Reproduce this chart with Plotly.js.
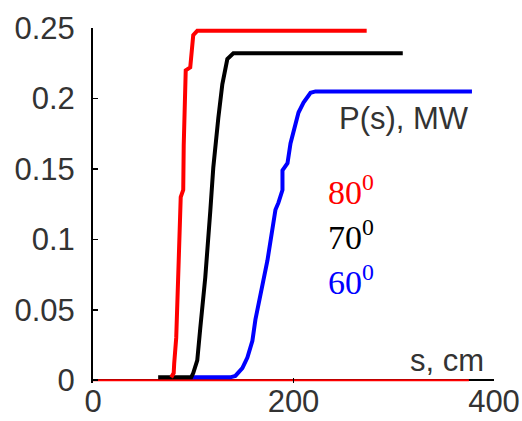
<!DOCTYPE html>
<html>
<head>
<meta charset="utf-8">
<script src="https://cdn.plot.ly/plotly-3.0.1.min.js"></script>
<style>html,body{margin:0;padding:0;background:#fff;}#chart{width:522px;height:421px;}</style>
</head>
<body>
<div id="chart"></div>
<script>
// Curve at 80 degrees (red)
const s80 = [78, 80.5, 81, 83, 85.5, 87.5, 90, 90.5, 92.5, 97, 100, 104, 273];
const p80 = [0.002, 0.005, 0.012, 0.03, 0.085, 0.13, 0.135, 0.167, 0.22, 0.222, 0.245, 0.248, 0.248];
// Curve at 70 degrees (black)
const s70 = [65, 98, 100, 104, 107, 112, 117, 120, 125, 129, 134, 140, 309];
const p70 = [0.002, 0.002, 0.005, 0.014, 0.037, 0.073, 0.12, 0.151, 0.186, 0.21, 0.228, 0.232, 0.232];
// Curve at 60 degrees (blue)
const s60 = [97, 137, 142, 149, 154, 159, 162, 166, 170, 174, 179, 182, 185, 189, 189, 194, 197, 202, 205, 210, 217, 222, 378];
const p60 = [0.002, 0.002, 0.003, 0.0085, 0.016, 0.028, 0.043, 0.059, 0.071, 0.085, 0.107, 0.121, 0.126, 0.135, 0.149, 0.154, 0.168, 0.183, 0.19, 0.197, 0.204, 0.205, 0.205];
// Thin baseline (red) along zero
const sBase = [0, 375];
const pBase = [0, 0];

const xTicks = [0, 200, 400];
const xTickText = ['0', '200', '400'];
const yTicks = [0, 0.05, 0.1, 0.15, 0.2, 0.25];
const yTickText = ['0', '0.05', '0.1', '0.15', '0.2', '0.25'];

const labels = ['80<sup>0</sup>', '70<sup>0</sup>', '60<sup>0</sup>'];
const labelColors = ['#ff0000', '#000000', '#0000ff'];

const traces = [
  {x: sBase, y: pBase, mode: 'lines', line: {color: '#ff0000', width: 2}, hoverinfo: 'skip'},
  {x: s60, y: p60, mode: 'lines', line: {color: '#0000ff', width: 4}},
  {x: s70, y: p70, mode: 'lines', line: {color: '#000000', width: 4}},
  {x: s80, y: p80, mode: 'lines', line: {color: '#ff0000', width: 4}}
];

const tickFont = {family: 'Liberation Sans, Arial, sans-serif', size: 31, color: '#333'};
const serif = 'Liberation Serif, Times New Roman, serif';

const annotations = [
  {x: 243, y: 0.186, text: 'P(s), MW', font: {family: 'Liberation Sans, Arial, sans-serif', size: 31, color: '#333'}},
  {x: 314, y: 0.014, text: 's, cm', font: {family: 'Liberation Sans, Arial, sans-serif', size: 31, color: '#333'}},
  {x: 232, y: 0.135, text: labels[0], font: {family: serif, size: 34, color: labelColors[0]}},
  {x: 232, y: 0.103, text: labels[1], font: {family: serif, size: 34, color: labelColors[1]}},
  {x: 232, y: 0.071, text: labels[2], font: {family: serif, size: 34, color: labelColors[2]}}
].map(a => Object.assign({xref: 'x', yref: 'y', showarrow: false, xanchor: 'left', yanchor: 'middle'}, a));

const layout = {
  width: 522, height: 421,
  margin: {l: 93, r: 28, t: 28, b: 38, pad: 0},
  paper_bgcolor: '#fff', plot_bgcolor: '#fff',
  showlegend: false,
  xaxis: {
    range: [0, 400], tickvals: xTicks, ticktext: xTickText,
    showgrid: false, zeroline: false, showline: false,
    ticks: 'inside', ticklen: 5, tickwidth: 1.5, tickcolor: '#000',
    tickfont: tickFont, ticklabelstandoff: -3
  },
  yaxis: {
    range: [-0.002, 0.25], tickvals: yTicks, ticktext: yTickText,
    showgrid: false, showline: true, linecolor: '#000', linewidth: 2,
    zeroline: true, zerolinecolor: '#000', zerolinewidth: 2,
    ticks: 'inside', ticklen: 5, tickwidth: 1.5, tickcolor: '#000',
    tickfont: tickFont, ticklabelstandoff: 10
  },
  annotations: annotations
};

Plotly.newPlot('chart', traces, layout, {staticPlot: true, displayModeBar: false});
</script>
</body>
</html>
